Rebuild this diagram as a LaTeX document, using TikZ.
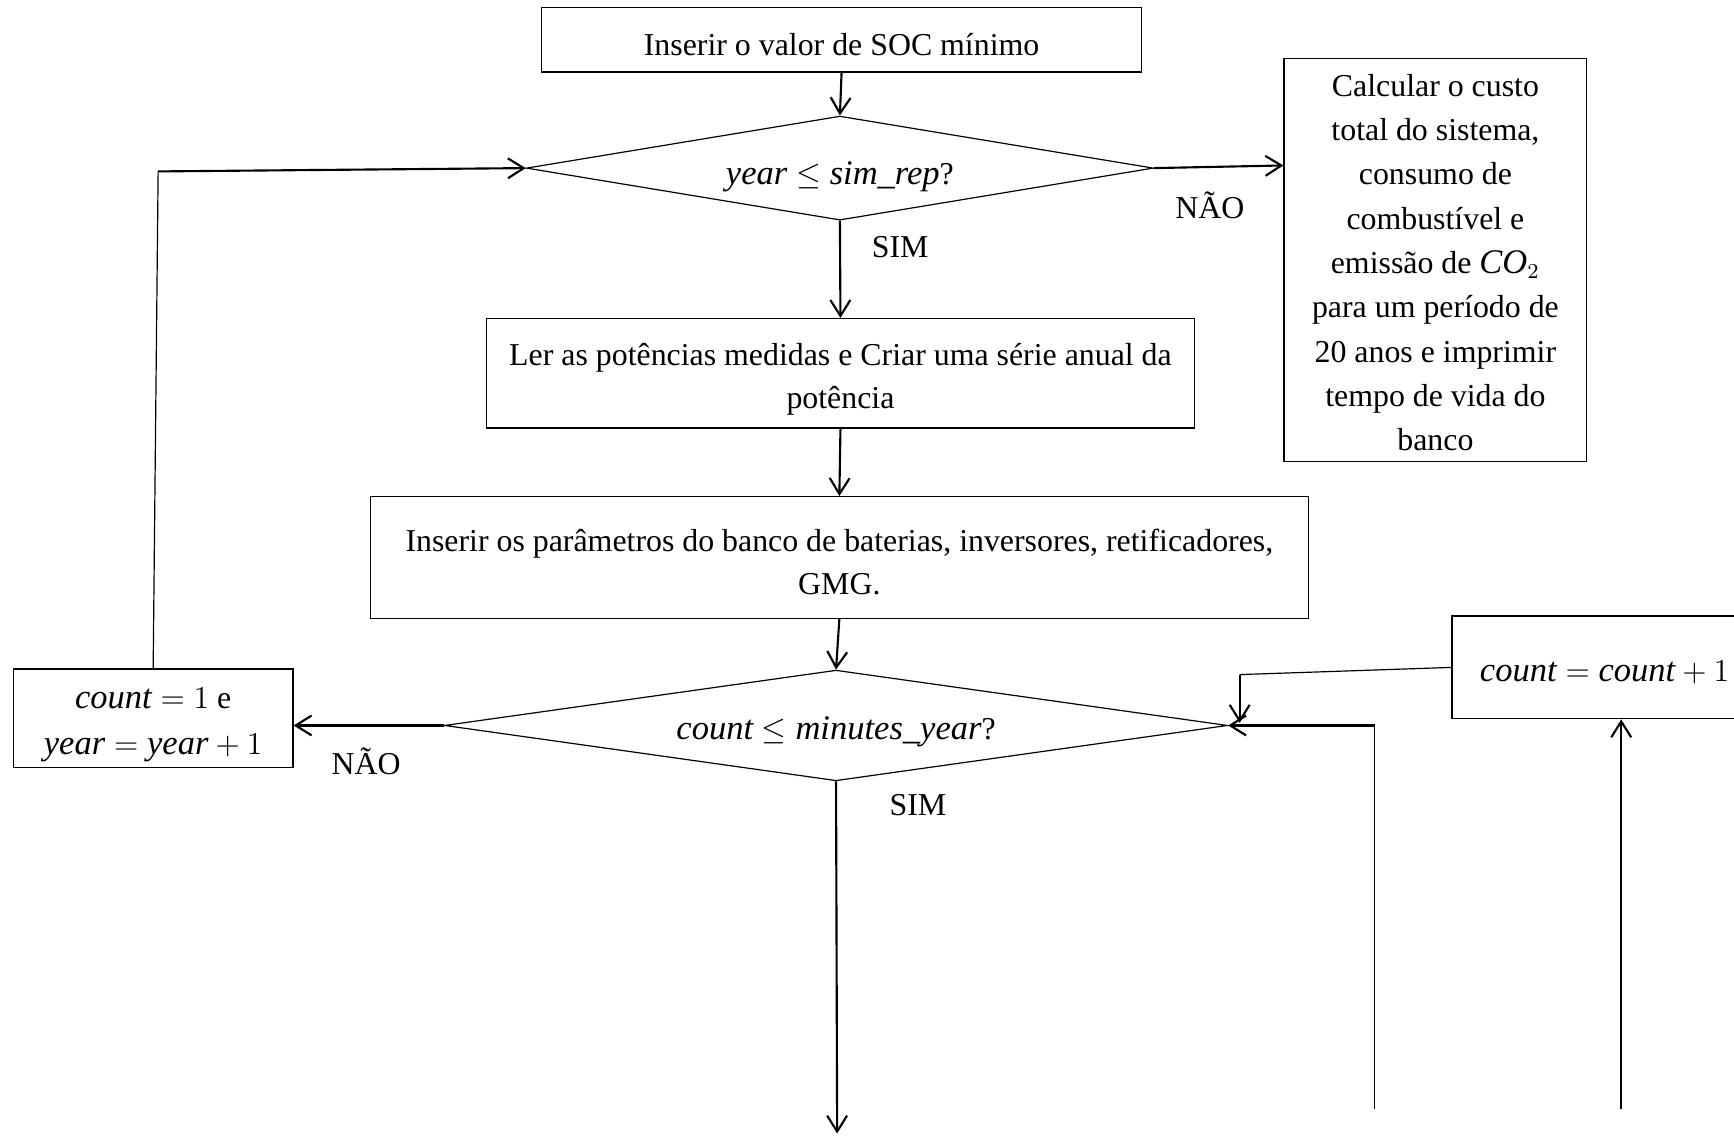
\documentclass[tikz,border=0pt]{standalone}
\usepackage{fontspec}
\setmainfont{Liberation Serif}
\usetikzlibrary{arrows.meta,shapes.geometric}
% italic variable names, set a little wider than the text face
\newcommand\mv[1]{\mbox{\fontsize{13}{16}\selectfont\itshape #1}}
\begin{document}
\begin{tikzpicture}[x=0.4166pt,y=-0.4166pt,
  box/.style={draw, line width=0.45pt, inner sep=0pt},
  dec/.style={draw, diamond, shape aspect=6, inner sep=0pt, line width=0.45pt},
  tx/.style={inner sep=0pt, align=center, font=\fontsize{12}{16}\selectfont},
  flow/.style={line width=0.8pt, -{Straight Barb[length=6pt,width=7.5pt,line width=0.8pt]}},
  wire/.style={line width=0.45pt},
  lbl/.style={inner sep=0pt, font=\fontsize{12}{16}\selectfont}]
\useasboundingbox (0,0) rectangle (1568,1027);

% process boxes (text carried as a centred label)
\node[box, minimum width=225.8pt, minimum height=24.2pt,
  label={[tx, yshift=-1.7pt]center:{Inserir o valor de SOC mínimo}}] (soc) at (761,36) {};
\node[box, minimum width=266.6pt, minimum height=41.2pt,
  label={[tx, yshift=-2.3pt]center:{Ler as potências medidas e Criar uma série anual da\\potência}}]
  (ler) at (760,337.5) {};
\node[box, minimum width=353.3pt, minimum height=45.8pt,
  label={[tx, yshift=-1.7pt]center:{Inserir os parâmetros do banco de baterias, inversores, retificadores,\\GMG.}}]
  (par) at (759,504) {};
\node[box, minimum width=114.1pt, minimum height=151.6pt,
  label={[tx, font=\fontsize{12}{16.7}\selectfont, yshift=-1pt]center:{Calcular o custo\\total do sistema,\\consumo de\\combustível e\\emissão de $\mv{CO}_2$\\para um período de\\20 anos e imprimir\\tempo de vida do\\banco}}]
  (res) at (1298,235) {};
\node[box, minimum width=105.4pt, minimum height=37.1pt,
  label={[tx, font=\fontsize{12}{17}\selectfont, yshift=-2.5pt]center:{$\mv{count}=1$ e\\$\mv{year}=\mv{year}+1$}}]
  (inc) at (138.5,649.5) {};
\node[box, minimum width=115pt, minimum height=38.7pt,
  label={[tx, yshift=-2pt]center:{$\mv{count}=\mv{count}+1$}}] (cnt) at (1451,603.5) {};

% decisions
\node[dec, minimum width=236.2pt, minimum height=39.2pt,
  label={[tx, yshift=-3.3pt]center:{$\mv{year}\leq\mv{sim\_rep}$?}}] (d1) at (759.5,152) {};
\node[dec, minimum width=295pt, minimum height=41.7pt,
  label={[tx, yshift=-2.5pt]center:{$\mv{count}\leq\mv{minutes\_year}$?}}] (d2) at (756,656) {};

% branch labels
\node[lbl] (n1) at (1094,186) {NÃO};
\node[lbl] (s1) at (814,223) {SIM};
\node[lbl] (n2) at (331,688) {NÃO};
\node[lbl] (s2) at (830,728) {SIM};

% free ends of connectors
\coordinate (c1) at (143,155);
\coordinate (c2) at (757,1025);
\coordinate (c3) at (1121,610);
\coordinate (c4) at (1243,1003);
\coordinate (c5) at (1243,656);
\coordinate (c6) at (1466,1003);

% main flow
\draw[flow] (soc.south) -- (d1.north);
\draw[flow] (d1.east) -- ([yshift=1pt]res.west |- d1.east);
\draw[flow] (d1.south) -- (ler.north);
\draw[flow] (ler.south) -- (par.north);
\draw[flow] (par.south) -- (d2.north);
\draw[flow] (d2.west) -- (inc.east |- d2.west);
\draw[wire] (inc.north) -- (c1);
\draw[flow] (c1) -- (d1.west);
\draw[flow] (d2.south) -- (c2);

% return paths
\draw[wire] (cnt.west) -- (c3);
\draw[flow] (c3) -- ([yshift=1pt]c3 |- d2.east);
\draw[wire] (c4) -- (c5);
\draw[flow] (c5) -- (d2.east);
\draw[flow] (c6) -- (cnt.south -| c6);
\end{tikzpicture}
\end{document}
